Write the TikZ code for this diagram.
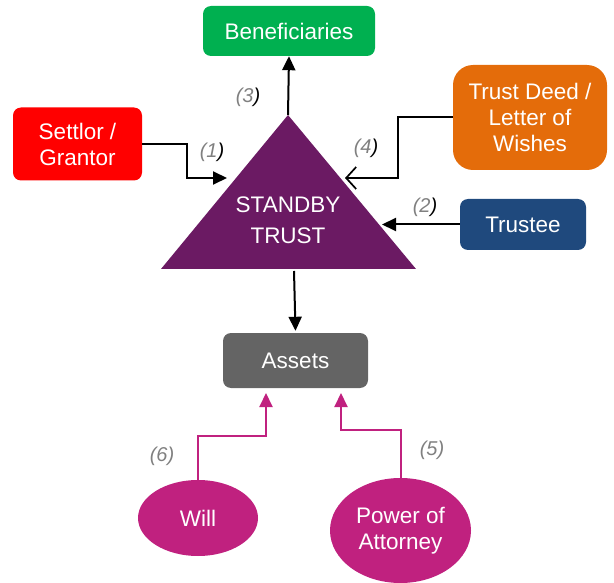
\documentclass[tikz,border=0pt]{standalone}
\usepackage{fontspec}
\setmainfont{Liberation Sans}
\usetikzlibrary{arrows.meta,shapes.geometric}
\definecolor{cgreen}{HTML}{00B050}
\definecolor{cred}{HTML}{FF0000}
\definecolor{corange}{HTML}{E46C0A}
\definecolor{cblue}{HTML}{1F497D}
\definecolor{cpurple}{HTML}{6B1A63}
\definecolor{cgrey}{HTML}{646464}
\definecolor{cmag}{HTML}{C0217F}
\definecolor{clabel}{HTML}{808080}
\begin{document}
\begin{tikzpicture}[x=1pt,y=-1pt,
  box/.style={rounded corners=8pt, inner sep=0pt, text=white, align=center,
    font=\fontsize{22.5}{26}\selectfont},
  oval/.style={ellipse, fill=cmag, inner sep=0pt, text=white, align=center,
    font=\fontsize{22.5}{25.5}\selectfont},
  arr/.style={line width=2pt, -{Triangle[length=14pt,width=13pt]}},
  openarr/.style={line width=2pt, -{Straight Barb[length=10pt,width=22pt,line width=1.7pt]}},
  marr/.style={line width=2pt, cmag, -{Triangle[length=14pt,width=13pt]}},
  lab/.style={font=\fontsize{20}{22}\selectfont\itshape, text=clabel, inner sep=0pt}]
\useasboundingbox (0,0) rectangle (614,583);
% boxes
\node[box, fill=cgreen, minimum width=172pt, minimum height=50pt] (benef) at (289,31) {Beneficiaries};
\node[box, fill=cred, minimum width=129pt, minimum height=73pt] (settlor) at (77.5,144) {Settlor /\\Grantor};
\node[box, fill=corange, rounded corners=20pt, minimum width=154pt, minimum height=105pt] (deed) at (530,117.5) {Trust Deed /\\Letter of\\Wishes};
\node[box, fill=cblue, minimum width=126pt, minimum height=51pt] (trustee) at (523,224.5) {Trustee};
\node[box, fill=cgrey, minimum width=145pt, minimum height=55pt] (assets) at (295.5,360.5) {Assets};
\node[oval, minimum width=120pt, minimum height=76pt] (will) at (198,518) {Will};
\node[oval, minimum width=141pt, minimum height=105pt] (poa) at (400.5,530.5) {Power of\\Attorney};
% triangle
\coordinate (apex) at (288,115);
\coordinate (bl) at (161,269);
\coordinate (br) at (416,269);
\fill[cpurple] (apex) -- (br) -- (bl) -- cycle;
\node[text=white, align=center, inner sep=0pt, font=\fontsize{22.5}{31}\selectfont] (trust) at (288,220) {STANDBY\\TRUST};
\coordinate (tb) at (294,271);
\coordinate (c1) at (187,178);
\coordinate (t1) at (227,178);
\coordinate (c4) at (398,178);
\coordinate (t4) at (345,178);
\coordinate (t2) at (382,224.5);
\coordinate (c6) at (266,436);
\coordinate (t6) at (266,393);
\coordinate (c5) at (341,430);
\coordinate (t5) at (341,393);
% connectors
\draw[arr] (apex) -- (benef.south);
\draw[arr] (settlor.east) -| (c1) -- (t1);
\draw[openarr] (deed.west) -| (c4) -- (t4);
\draw[arr] (trustee.west) -- (t2);
\draw[arr] (tb) -- ([yshift=2pt]assets.north);
\draw[marr] (will.north) |- (c6) -- (t6);
\draw[marr] (poa.north) |- (c5) -- (t5);
% labels
\node[lab] (l3) at (248,97) {(3\textcolor{black}{)}};
\node[lab] (l1) at (212,152) {(1\textcolor{black}{)}};
\node[lab] (l4) at (366,148) {(4\textcolor{black}{)}};
\node[lab] (l2) at (425,207) {(2\textcolor{black}{)}};
\node[lab] (l6) at (162,456) {(6)};
\node[lab] (l5) at (432,450) {(5)};
\end{tikzpicture}
\end{document}
